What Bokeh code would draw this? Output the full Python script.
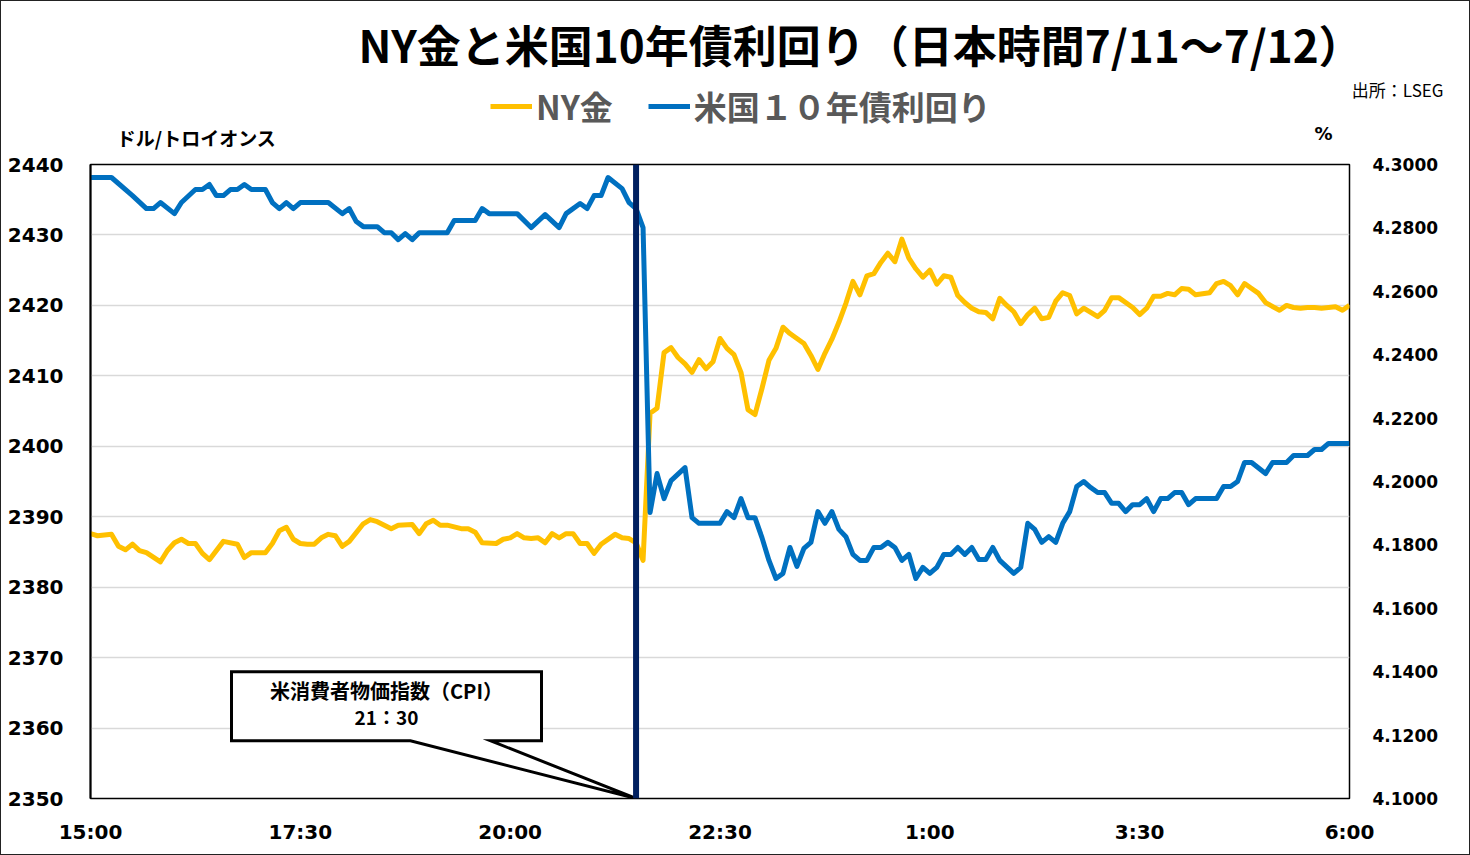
from bokeh.plotting import figure
from bokeh.layouts import column
from bokeh.models import (Range1d, LinearAxis, FixedTicker, NumeralTickFormatter, Span,
                          Label, Legend, LegendItem)
from bokeh.embed import file_html
from bokeh.resources import INLINE

# ---------------- data (minutes after 15:00 JST, 7/11) ----------------
x_tick_minutes = [0, 150, 300, 450, 600, 750, 900]
x_tick_labels = ["15:00", "17:30", "20:00", "22:30", "1:00", "3:30", "6:00"]

left_ticks = [2350, 2360, 2370, 2380, 2390, 2400, 2410, 2420, 2430, 2440]
right_ticks = [4.10, 4.12, 4.14, 4.16, 4.18, 4.20, 4.22, 4.24, 4.26, 4.28, 4.30]

gold_min = [0, 5, 15, 20, 25, 30, 35, 40, 50, 55,
            60, 65, 70, 75, 80, 85, 95, 105, 110, 115,
            125, 130, 135, 140, 145, 150, 155, 160, 165, 170,
            175, 180, 185, 195, 200, 205, 215, 220, 230, 235,
            240, 245, 250, 255, 265, 270, 275, 280, 290, 295,
            300, 305, 310, 315, 320, 325, 330, 335, 340, 345,
            350, 355, 360, 365, 375, 380, 385, 390, 395, 400,
            405, 410, 415, 420, 425, 430, 435, 440, 445, 450,
            455, 460, 465, 470, 475, 480, 485, 490, 495, 500,
            505, 510, 515, 520, 525, 530, 535, 540, 545, 550,
            555, 560, 565, 570, 575, 580, 585, 590, 595, 600,
            605, 610, 615, 620, 625, 630, 635, 640, 645, 650,
            655, 660, 665, 670, 675, 680, 685, 690, 695, 700,
            705, 710, 715, 720, 725, 730, 735, 740, 745, 750,
            755, 760, 765, 770, 775, 780, 785, 790,
            800, 805, 810, 815, 820, 825, 830, 835, 840,
            850, 855, 860, 865, 870, 875, 880, 885, 890, 895, 900]
gold_val = [2387.6, 2387.3, 2387.5, 2385.8, 2385.3, 2386.1, 2385.2, 2384.9, 2383.6, 2385.2,
            2386.3, 2386.8, 2386.2, 2386.2, 2384.8, 2383.9, 2386.5, 2386.1, 2384.2, 2384.9,
            2384.9, 2386.2, 2388.0, 2388.5, 2386.8, 2386.2, 2386.1, 2386.1, 2387.0, 2387.5,
            2387.3, 2385.8, 2386.5, 2389.0, 2389.6, 2389.3, 2388.3, 2388.8, 2388.9, 2387.6,
            2389.0, 2389.5, 2388.8, 2388.8, 2388.3, 2388.3, 2387.8, 2386.3, 2386.2, 2386.8,
            2387.0, 2387.6, 2387.0, 2386.9, 2387.0, 2386.3, 2387.6, 2387.0, 2387.6, 2387.6,
            2386.2, 2386.2, 2384.8, 2386.1, 2387.5, 2387.0, 2386.9, 2386.3, 2383.8, 2404.7,
            2405.4, 2413.3, 2414.0, 2412.6, 2411.7, 2410.5, 2412.3, 2411.0, 2412.0, 2415.3,
            2413.9, 2413.0, 2410.5, 2405.2, 2404.5, 2408.2, 2412.2, 2413.9, 2416.9, 2416.0,
            2415.3, 2414.6, 2412.9, 2410.9, 2413.2, 2415.2, 2417.6, 2420.3, 2423.4, 2421.5,
            2424.2, 2424.5, 2426.1, 2427.4, 2426.2, 2429.4, 2426.7, 2425.2, 2424.0, 2425.0,
            2423.0, 2424.2, 2424.0, 2421.4, 2420.4, 2419.6, 2419.1, 2419.0, 2418.1, 2421.0,
            2420.0, 2419.1, 2417.4, 2418.7, 2419.6, 2418.1, 2418.3, 2420.6, 2421.8, 2421.4,
            2418.8, 2419.6, 2419.0, 2418.4, 2419.3, 2421.1, 2421.1, 2420.4, 2419.7, 2418.7,
            2419.6, 2421.3, 2421.3, 2421.7, 2421.5, 2422.4, 2422.3, 2421.5,
            2421.8, 2423.1, 2423.4, 2422.8, 2421.5, 2423.1, 2422.4, 2421.7, 2420.4,
            2419.3, 2420.0, 2419.7, 2419.6, 2419.7, 2419.7, 2419.6, 2419.7, 2419.8, 2419.3, 2420.0]

yield_min = [0, 15, 30, 40, 45, 50, 60, 65, 75, 80,
             85, 90, 95, 100, 105, 110, 115, 125, 130, 135,
             140, 145, 150, 170, 180, 185, 190, 195, 205, 210,
             215, 220, 225, 230, 235, 255, 260, 275, 280, 285,
             305, 315, 325, 335, 340, 350, 355, 360, 365, 370,
             380, 385, 390, 395, 400, 405, 410, 415, 425, 430,
             435, 450, 455, 460, 465, 470, 475, 480, 485, 490,
             495, 500, 505, 510, 515, 520, 525, 530, 535, 540,
             545, 550, 555, 560, 565, 570, 575, 580, 585, 590,
             595, 600, 605, 610, 615, 620, 625, 630, 635, 640,
             645, 650, 660, 665, 670, 675, 680, 685, 690, 695,
             700, 705, 710, 715, 720, 725, 730, 735, 740, 745,
             750, 755, 760, 765, 770, 775, 780, 785, 790,
             805, 810, 815, 820, 825, 830, 840, 845, 855, 860,
             870, 875, 880, 885, 900]
yield_val = [4.2959, 4.2959, 4.2902, 4.2861, 4.2861, 4.2880, 4.2845, 4.2880, 4.2921, 4.2921,
             4.2937, 4.2902, 4.2902, 4.2921, 4.2921, 4.2937, 4.2921, 4.2921, 4.2880, 4.2861,
             4.2880, 4.2861, 4.2880, 4.2880, 4.2845, 4.2861, 4.2820, 4.2804, 4.2804, 4.2785,
             4.2785, 4.2763, 4.2782, 4.2763, 4.2785, 4.2785, 4.2823, 4.2823, 4.2861, 4.2845,
             4.2845, 4.2801, 4.2842, 4.2801, 4.2845, 4.2877, 4.2861, 4.2902, 4.2902, 4.2959,
             4.2924, 4.2880, 4.2861, 4.2801, 4.1902, 4.2025, 4.1946, 4.2003, 4.2044, 4.1886,
             4.1868, 4.1868, 4.1905, 4.1886, 4.1946, 4.1886, 4.1886, 4.1823, 4.1751, 4.1694,
             4.1710, 4.1792, 4.1732, 4.1789, 4.1808, 4.1905, 4.1868, 4.1905, 4.1849, 4.1826,
             4.1770, 4.1751, 4.1751, 4.1792, 4.1792, 4.1808, 4.1792, 4.1751, 4.1770, 4.1694,
             4.1729, 4.1710, 4.1729, 4.1770, 4.1770, 4.1792, 4.1770, 4.1792, 4.1754, 4.1754,
             4.1792, 4.1751, 4.1710, 4.1729, 4.1868, 4.1849, 4.1808, 4.1826, 4.1808, 4.1868,
             4.1905, 4.1984, 4.2000, 4.1981, 4.1965, 4.1965, 4.1931, 4.1931, 4.1905, 4.1927,
             4.1927, 4.1946, 4.1905, 4.1946, 4.1946, 4.1965, 4.1965, 4.1927, 4.1946,
             4.1946, 4.1984, 4.1984, 4.2000, 4.2060, 4.2060, 4.2025, 4.2060, 4.2060, 4.2082,
             4.2082, 4.2101, 4.2101, 4.2120, 4.2120]

series_names = ["NY金", "米国１０年債利回り"]
series_colors = ["#FFC000", "#0070C0"]
cpi_minute = 390  # 21:30

n = min(len(gold_min), len(gold_val)); gold_min, gold_val = gold_min[:n], gold_val[:n]
m = min(len(yield_min), len(yield_val)); yield_min, yield_val = yield_min[:m], yield_val[:m]

CJK = "Noto Sans CJK JP"
NUM = "DejaVu Sans"

# ---------------- layout ----------------
W = 1468            # inner width (1px border around the page)
HEAD_H = 150        # header strip: page rows 1..150
MAIN_H = 703        # main chart: page rows 151..853
FRAME_TOP_PAGE, FRAME_BOT_PAGE = 164, 798
FRAME_LEFT_PAGE, FRAME_RIGHT_PAGE = 90, 1349

# ---------------- header (title, legend, units) ----------------
h = figure(width=W, height=HEAD_H, output_backend="svg", toolbar_location=None,
           x_range=Range1d(1, 1 + W), y_range=Range1d(1 + HEAD_H, 1),
           x_axis_type=None, y_axis_type=None,
           min_border=0, min_border_left=0, min_border_right=0,
           min_border_top=0, min_border_bottom=0,
           background_fill_color="white", border_fill_color="white")
h.frame_align = False
h.outline_line_color = None
h.xgrid.grid_line_color = None
h.ygrid.grid_line_color = None

def htext(px, py, txt, size, bold=True, align="center", color="black", font=CJK):
    h.add_layout(Label(x=px, y=py, text=txt, text_font=font, text_font_size=size,
                       text_font_style="bold" if bold else "normal",
                       text_align=align, text_baseline="middle", text_color=color))

htext(860, 43, "NY金と米国10年債利回り（日本時間7/11～7/12）", "44px")
htext(1443, 89, "出所：LSEG", "17px", bold=False, align="right")
htext(196, 137, "ドル/トロイオンス", "19px")
htext(1323, 133, "%", "18px", font=NUM)

# invisible stand-in renderers (outside the header's ranges) that carry the legend swatches
dummies = [h.line(x=[-50, -40], y=[-50, -50], line_color=c, line_width=5) for c in series_colors]
legend = Legend(items=[LegendItem(label=nm, renderers=[r]) for nm, r in zip(series_names, dummies)],
                location=(489, 21), orientation="horizontal",
                label_text_font=CJK, label_text_font_style="bold",
                label_text_font_size="33px", label_text_color="#595959",
                glyph_width=42, glyph_height=30, label_height=30, label_standoff=4, spacing=35,
                padding=0, margin=0, background_fill_alpha=0, border_line_color=None)
h.add_layout(legend)

# ---------------- main chart ----------------
top_b = FRAME_TOP_PAGE - 1 - HEAD_H
bot_b = (1 + HEAD_H + MAIN_H) - FRAME_BOT_PAGE
p = figure(width=W, height=MAIN_H, output_backend="svg", toolbar_location=None,
           x_range=Range1d(0, 900), y_range=Range1d(2350, 2440),
           min_border_left=FRAME_LEFT_PAGE - 1, min_border_right=W - (FRAME_RIGHT_PAGE - 1),
           min_border_top=top_b, min_border_bottom=bot_b,
           background_fill_color="white", border_fill_color="white")
p.frame_align = False
p.outline_line_color = "black"
p.outline_line_width = 1.5
p.extra_y_ranges = {"yld": Range1d(4.10, 4.30)}

xa = p.xaxis[0]
xa.ticker = FixedTicker(ticks=x_tick_minutes)
xa.major_label_overrides = {t: l for t, l in zip(x_tick_minutes, x_tick_labels)}
xa.axis_line_color = None
xa.major_tick_line_color = None
xa.minor_tick_line_color = None
xa.major_tick_in = 0
xa.major_tick_out = 0
xa.major_label_standoff = 21
xa.major_label_text_font = NUM
xa.major_label_text_font_style = "bold"
xa.major_label_text_font_size = "20px"
xa.major_label_text_color = "black"
p.xgrid.grid_line_color = None

ya = p.yaxis[0]
ya.ticker = FixedTicker(ticks=left_ticks)
ya.axis_line_color = "black"
ya.axis_line_width = 2
ya.major_tick_line_color = None
ya.minor_tick_line_color = None
ya.major_tick_in = 0
ya.major_tick_out = 0
ya.major_label_standoff = 27
ya.major_label_text_font = NUM
ya.major_label_text_font_style = "bold"
ya.major_label_text_font_size = "20px"
ya.major_label_text_color = "black"
p.ygrid.ticker = FixedTicker(ticks=left_ticks)
p.ygrid.grid_line_color = "#D9D9D9"
p.ygrid.grid_line_width = 1.5

ra = LinearAxis(y_range_name="yld", ticker=FixedTicker(ticks=right_ticks),
                formatter=NumeralTickFormatter(format="0.0000"))
ra.axis_line_color = None
ra.major_tick_line_color = None
ra.minor_tick_line_color = None
ra.major_tick_in = 0
ra.major_tick_out = 0
ra.major_label_standoff = 23
ra.major_label_text_font = NUM
ra.major_label_text_font_style = "bold"
ra.major_label_text_font_size = "17px"
ra.major_label_text_color = "black"
p.add_layout(ra, "right")

p.line(gold_min, gold_val, line_color=series_colors[0], line_width=5, line_join="round")
p.line(yield_min, yield_val, line_color=series_colors[1], line_width=5, line_join="round",
       y_range_name="yld")

p.add_layout(Span(location=cpi_minute, dimension="height", line_color="#002060", line_width=6))

# callout box with tail pointing at 21:30
bx0, bx1, by0, by1 = 100.8, 322.4, 2358.2, 2368.0
tl, tr = 228.7, 285.9
p.patch([bx0, bx1, bx1, tr, cpi_minute, tl, bx0],
        [by1, by1, by0, by0, 2350, by0, by0],
        fill_color="white", line_color="black", line_width=3, line_join="miter")
p.add_layout(Label(x=211.6, y=2365.4, text="米消費者物価指数（CPI）", text_align="center",
                   text_baseline="middle", text_font=CJK, text_font_style="bold",
                   text_font_size="20px", text_color="black"))
p.add_layout(Label(x=211.6, y=2361.6, text="21：30", text_align="center",
                   text_baseline="middle", text_font=CJK, text_font_style="bold",
                   text_font_size="19px", text_color="black"))

page = column(h, p, spacing=0)
page.styles = {"border": "1px solid #222222"}

open("out.html", "w").write(file_html(page, INLINE))
